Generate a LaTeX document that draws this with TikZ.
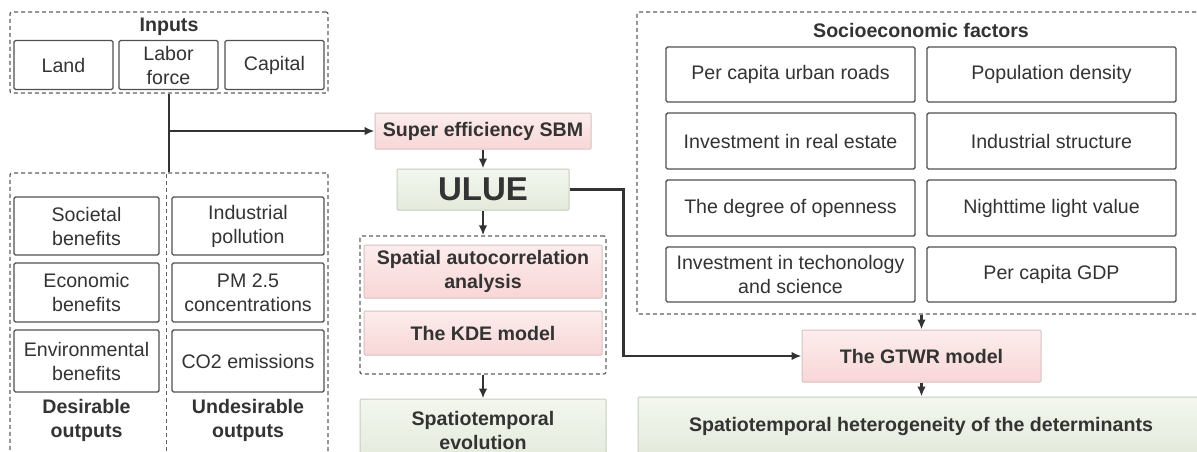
\documentclass[tikz,border=0pt]{standalone}
\usepackage{fontspec}
\setmainfont{Liberation Sans}
\usetikzlibrary{arrows.meta}
\definecolor{ink}{HTML}{333333}
\definecolor{edge}{HTML}{505050}
\definecolor{dashc}{HTML}{606060}
\definecolor{pinkA}{HTML}{FDEDED}
\definecolor{pinkB}{HTML}{F8D6D6}
\definecolor{pinkedge}{HTML}{D6C2C2}
\definecolor{greenA}{HTML}{F3F7EF}
\definecolor{greenB}{HTML}{E3EADB}
\definecolor{greenedge}{HTML}{C6CDBF}
\begin{document}
\begin{tikzpicture}[x=1pt,y=-1pt,
  every node/.style={font=\fontsize{19.6}{24}\selectfont, text=ink, inner sep=0pt, align=center},
  boldtext/.style={font=\bfseries\fontsize{19.6}{24}\selectfont},
  item/.style={draw=edge, line width=1.4pt, rounded corners=1.5pt, fill=white},
  group/.style={draw=dashc, line width=1.2pt, dash pattern=on 4pt off 3pt, rounded corners=2pt},
  divider/.style={draw=dashc, line width=0.9pt, dash pattern=on 4pt off 3pt},
  pinkbox/.style={draw=pinkedge, line width=1pt, rounded corners=1pt, top color=pinkA, bottom color=pinkB, boldtext},
  greenbox/.style={draw=greenedge, line width=1pt, rounded corners=1pt, top color=greenA, bottom color=greenB, boldtext},
  link/.style={draw=ink, line width=2.4pt},
  flow/.style={link, -{Latex[length=10pt,width=8.5pt]}}
]
\path[use as bounding box] (0,0) rectangle (1197,451);
\clip (0,0) rectangle (1197,451);
\fill[white] (0,0) rectangle (1197,451);

% ---------- Inputs ----------
\node[group, minimum width=318pt, minimum height=81pt] (inputs) at (169,52.5) {};
\node[boldtext] (inputsT) at (169,27) {Inputs};
\node[item, minimum width=99pt, minimum height=49pt] (land) at (63.5,65) {Land};
\node[item, minimum width=99pt, minimum height=49pt] (labor) at (168.5,65) {Labor\\force};
\node[item, minimum width=99pt, minimum height=49pt] (capital) at (274.5,65) {Capital};

% ---------- Outputs ----------
\node[group, minimum width=318pt, minimum height=289pt] (outputs) at (169,317.5) {};
\draw[divider] (166,174) -- (166,462);
\node[item, minimum width=145pt, minimum height=58pt] (soc) at (86.5,226) {Societal\\benefits};
\node[item, minimum width=145pt, minimum height=59pt] (eco) at (86.5,292.5) {Economic\\benefits};
\node[item, minimum width=145pt, minimum height=62pt] (env) at (86.5,361) {Environmental\\benefits};
\node[item, minimum width=152pt, minimum height=58pt] (ind) at (248,226) {Industrial\\pollution};
\node[item, minimum width=152pt, minimum height=59pt] (pm) at (248,292.5) {PM 2.5\\concentrations};
\node[item, minimum width=152pt, minimum height=62pt] (co2) at (248,361) {CO2 emissions};
\node[boldtext] (desir) at (86.5,420) {Desirable\\outputs};
\node[boldtext] (undesir) at (248,420) {Undesirable\\outputs};

% ---------- Efficiency chain ----------
\node[pinkbox, minimum width=216pt, minimum height=36pt] (sbm) at (483,131) {Super efficiency SBM};
\node[greenbox, minimum width=172pt, minimum height=41pt, font=\bfseries\fontsize{33}{36}\selectfont] (ulue) at (483,189.5) {ULUE};
\node[group, minimum width=246pt, minimum height=138pt] (analysis) at (483,305) {};
\node[pinkbox, minimum width=238pt, minimum height=53pt] (moran) at (483,271.5) {Spatial autocorrelation\\analysis};
\node[pinkbox, minimum width=238pt, minimum height=44pt] (kde) at (483,333) {The KDE model};
\node[greenbox, minimum width=246pt, minimum height=62pt] (evol) at (483,430) {Spatiotemporal\\evolution};

% ---------- Socioeconomic factors ----------
\node[group, minimum width=568pt, minimum height=302pt] (socio) at (921,163) {};
\node[boldtext] (socioT) at (921,30) {Socioeconomic factors};
\node[item, minimum width=249pt, minimum height=55pt] (roads) at (790.5,74.5) {Per capita urban roads};
\node[item, minimum width=249pt, minimum height=55pt] (popd) at (1051.5,74.5) {Population density};
\node[item, minimum width=249pt, minimum height=56pt] (estate) at (790.5,141) {Investment in real estate};
\node[item, minimum width=249pt, minimum height=56pt] (struct) at (1051.5,141) {Industrial structure};
\node[item, minimum width=249pt, minimum height=56pt] (open) at (790.5,208) {The degree of openness};
\node[item, minimum width=249pt, minimum height=56pt] (light) at (1051.5,208) {Nighttime light value};
\node[item, minimum width=249pt, minimum height=55pt] (tech) at (790.5,274.5) {Investment in techonology\\and science};
\node[item, minimum width=249pt, minimum height=55pt] (gdp) at (1051.5,274.5) {Per capita GDP};

\node[pinkbox, minimum width=239pt, minimum height=52pt] (gtwr) at (921.5,356) {The GTWR model};
\node[greenbox, minimum width=566pt, minimum height=58pt] (hetero) at (921,426) {Spatiotemporal heterogeneity of the determinants};

% ---------- Connectors ----------
\draw[link] (inputs.south) -- (outputs.north);
\coordinate (jn) at (inputs.south |- sbm.west);
\draw[flow] (jn) -- (sbm.west);
\draw[flow] (sbm.south) -- (ulue.north);
\draw[flow] (ulue.south) -- (analysis.north);
\draw[flow] (analysis.south) -- (evol.north);
\draw[flow] (ulue.east) -- ++(54,0) |- (gtwr.west);
\draw[flow] (socio.south -| gtwr.north) -- (gtwr.north);
\draw[flow] (gtwr.south) -- (gtwr.south |- hetero.north);
\end{tikzpicture}
\end{document}
